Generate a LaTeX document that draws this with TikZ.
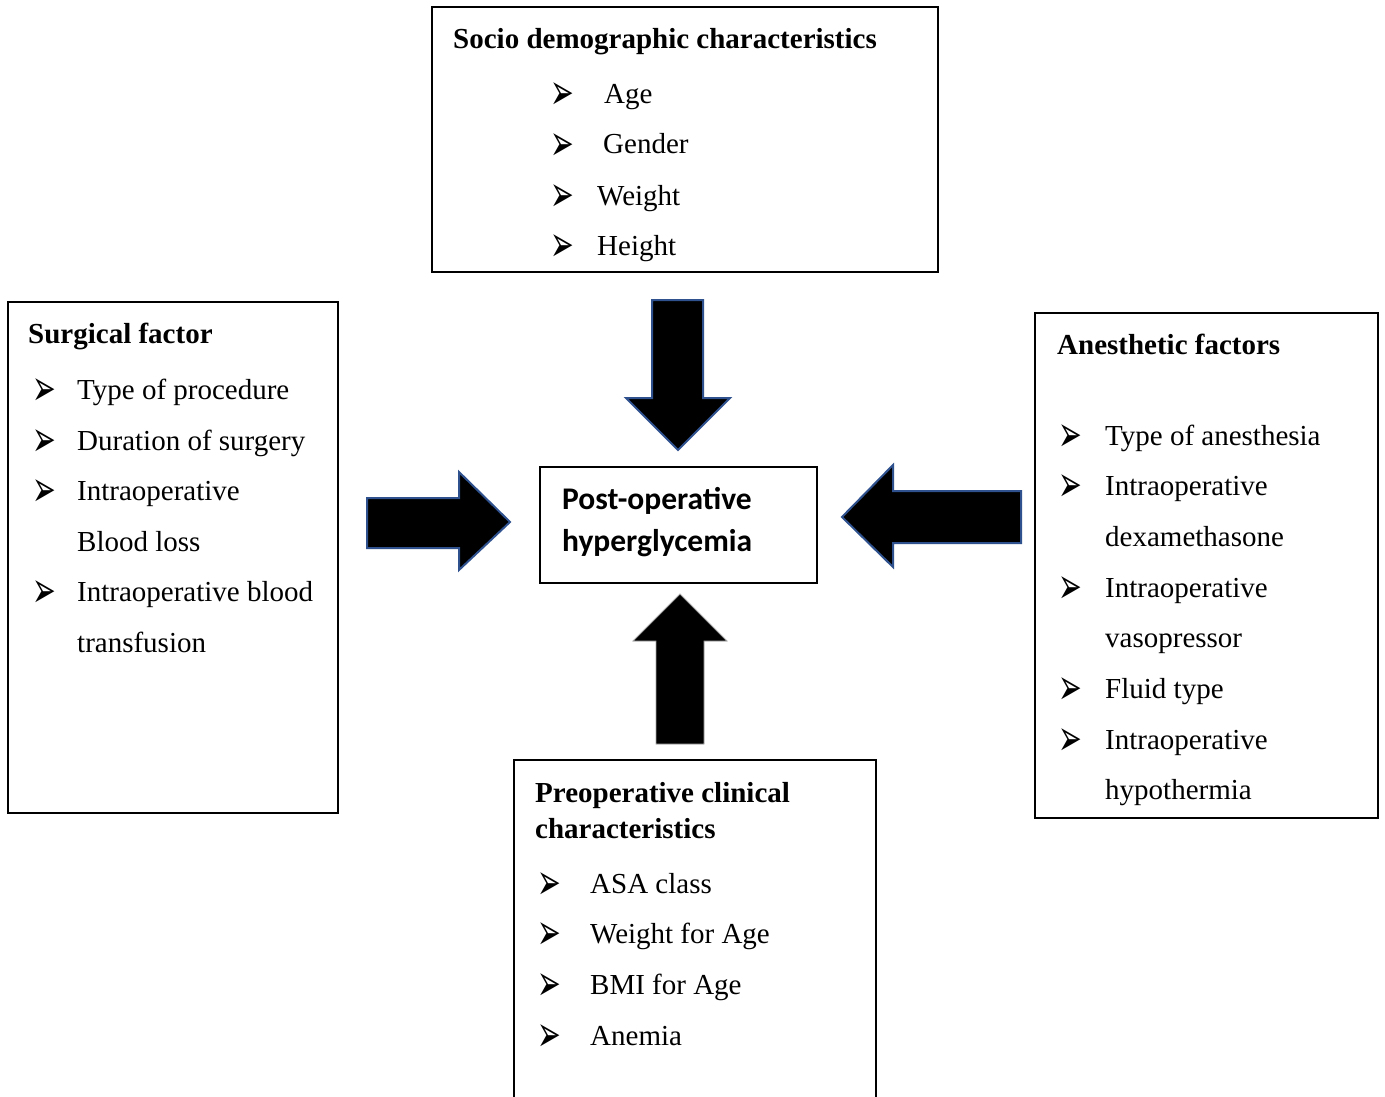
\documentclass[tikz,border=0pt]{standalone}
\usepackage{fontspec}
\setmainfont{Liberation Serif}
\newfontfamily\bulletfont{DejaVu Sans}
\newfontfamily\calib{Carlito}
\definecolor{arrowblue}{HTML}{2F528F}
\newcommand{\arrbul}{\raisebox{-6pt}{\scalebox{1.35}[2.4]{➢}}}
\tikzset{
  txt/.style={anchor=base west, inner sep=0, font=\fontsize{29}{35}\selectfont},
  ttl/.style={anchor=base west, inner sep=0, font=\fontsize{29}{35}\selectfont\bfseries},
  bul/.style={anchor=base west, inner sep=0, font=\bulletfont\fontsize{21}{24}\selectfont},
  framebox/.style={draw=black, line width=2pt},
  blkarrow/.style={fill=black, draw=arrowblue, line width=2pt, line join=miter},
  blkarrowgray/.style={fill=black, draw=gray!70, line width=0.8pt, line join=miter},
}
\begin{document}
\begin{tikzpicture}[x=1pt,y=-1pt]
\useasboundingbox (0,0) rectangle (1385,1097);
\clip (0,0) rectangle (1385,1097);
\fill[white] (0,0) rectangle (1385,1097);

% frames
\draw[framebox] (432,7) rectangle (938,272);
\draw[framebox] (8,302) rectangle (338,813);
\draw[framebox] (1035,313) rectangle (1378,818);
\draw[framebox] (514,760) rectangle (876,1110);
\draw[framebox] (540,467) rectangle (817,583);

% block arrows
\draw[blkarrow] (652,300) -- (703,300) -- (703,398) -- (730,398) -- (678,450) -- (626,398) -- (652,398) -- cycle;
\draw[blkarrow] (367,498) -- (459,498) -- (459,472) -- (510,522) -- (459,570) -- (459,548) -- (367,548) -- cycle;
\draw[blkarrow] (1021,491) -- (893,491) -- (893,465) -- (842,517) -- (893,567) -- (893,543) -- (1021,543) -- cycle;
\draw[blkarrowgray] (656,744) -- (656,641) -- (633,641) -- (680,594) -- (727,641) -- (704,641) -- (704,744) -- cycle;

% center
\node[anchor=base west, inner sep=0, font=\calib\fontsize{31.5}{38}\selectfont\bfseries] (c1) at (562,509) {Post-operative};
\node[anchor=base west, inner sep=0, font=\calib\fontsize{31.5}{38}\selectfont\bfseries] (c2) at (562,551) {hyperglycemia};

% top box
\node[ttl] (t0) at (453,49) {Socio demographic characteristics};
\node[bul] (tb1) at (550,104) {\arrbul};
\node[bul] (tb2) at (550,154) {\arrbul};
\node[bul] (tb3) at (550,205) {\arrbul};
\node[bul] (tb4) at (550,255) {\arrbul};
\node[txt] (t1) at (604,104) {Age};
\node[txt] (t2) at (603,154) {Gender};
\node[txt] (t3) at (597,205) {Weight};
\node[txt] (t4) at (597,255) {Height};

% left box
\node[ttl] (l0) at (28,343) {Surgical factor};
\node[bul] (lb1) at (32,399) {\arrbul};
\node[bul] (lb2) at (32,450) {\arrbul};
\node[bul] (lb3) at (32,500) {\arrbul};
\node[bul] (lb4) at (32,601) {\arrbul};
\node[txt] (l1) at (77,399) {Type of procedure};
\node[txt] (l2) at (77,450) {Duration of surgery};
\node[txt] (l3) at (77,500) {Intraoperative};
\node[txt] (l4) at (77,551) {Blood loss};
\node[txt] (l5) at (77,601) {Intraoperative blood};
\node[txt] (l6) at (77,652) {transfusion};

% right box
\node[ttl] (r0) at (1057,354) {Anesthetic factors};
\node[bul] (rb1) at (1058,445) {\arrbul};
\node[bul] (rb2) at (1058,495) {\arrbul};
\node[bul] (rb3) at (1058,597) {\arrbul};
\node[bul] (rb4) at (1058,698) {\arrbul};
\node[bul] (rb5) at (1058,749) {\arrbul};
\node[txt] (r1) at (1105,445) {Type of anesthesia};
\node[txt] (r2) at (1105,495) {Intraoperative};
\node[txt] (r3) at (1105,546) {dexamethasone};
\node[txt] (r4) at (1105,597) {Intraoperative};
\node[txt] (r5) at (1105,647) {vasopressor};
\node[txt] (r6) at (1105,698) {Fluid type};
\node[txt] (r7) at (1105,749) {Intraoperative};
\node[txt] (r8) at (1105,799) {hypothermia};

% bottom box
\node[ttl] (b0) at (535,802) {Preoperative clinical};
\node[ttl] (b0b) at (535,838) {characteristics};
\node[bul] (bb1) at (537,893) {\arrbul};
\node[bul] (bb2) at (537,943) {\arrbul};
\node[bul] (bb3) at (537,994) {\arrbul};
\node[bul] (bb4) at (537,1045) {\arrbul};
\node[txt] (b1) at (590,893) {ASA class};
\node[txt] (b2) at (590,943) {Weight for Age};
\node[txt] (b3) at (590,994) {BMI for Age};
\node[txt] (b4) at (590,1045) {Anemia};
\end{tikzpicture}
\end{document}
